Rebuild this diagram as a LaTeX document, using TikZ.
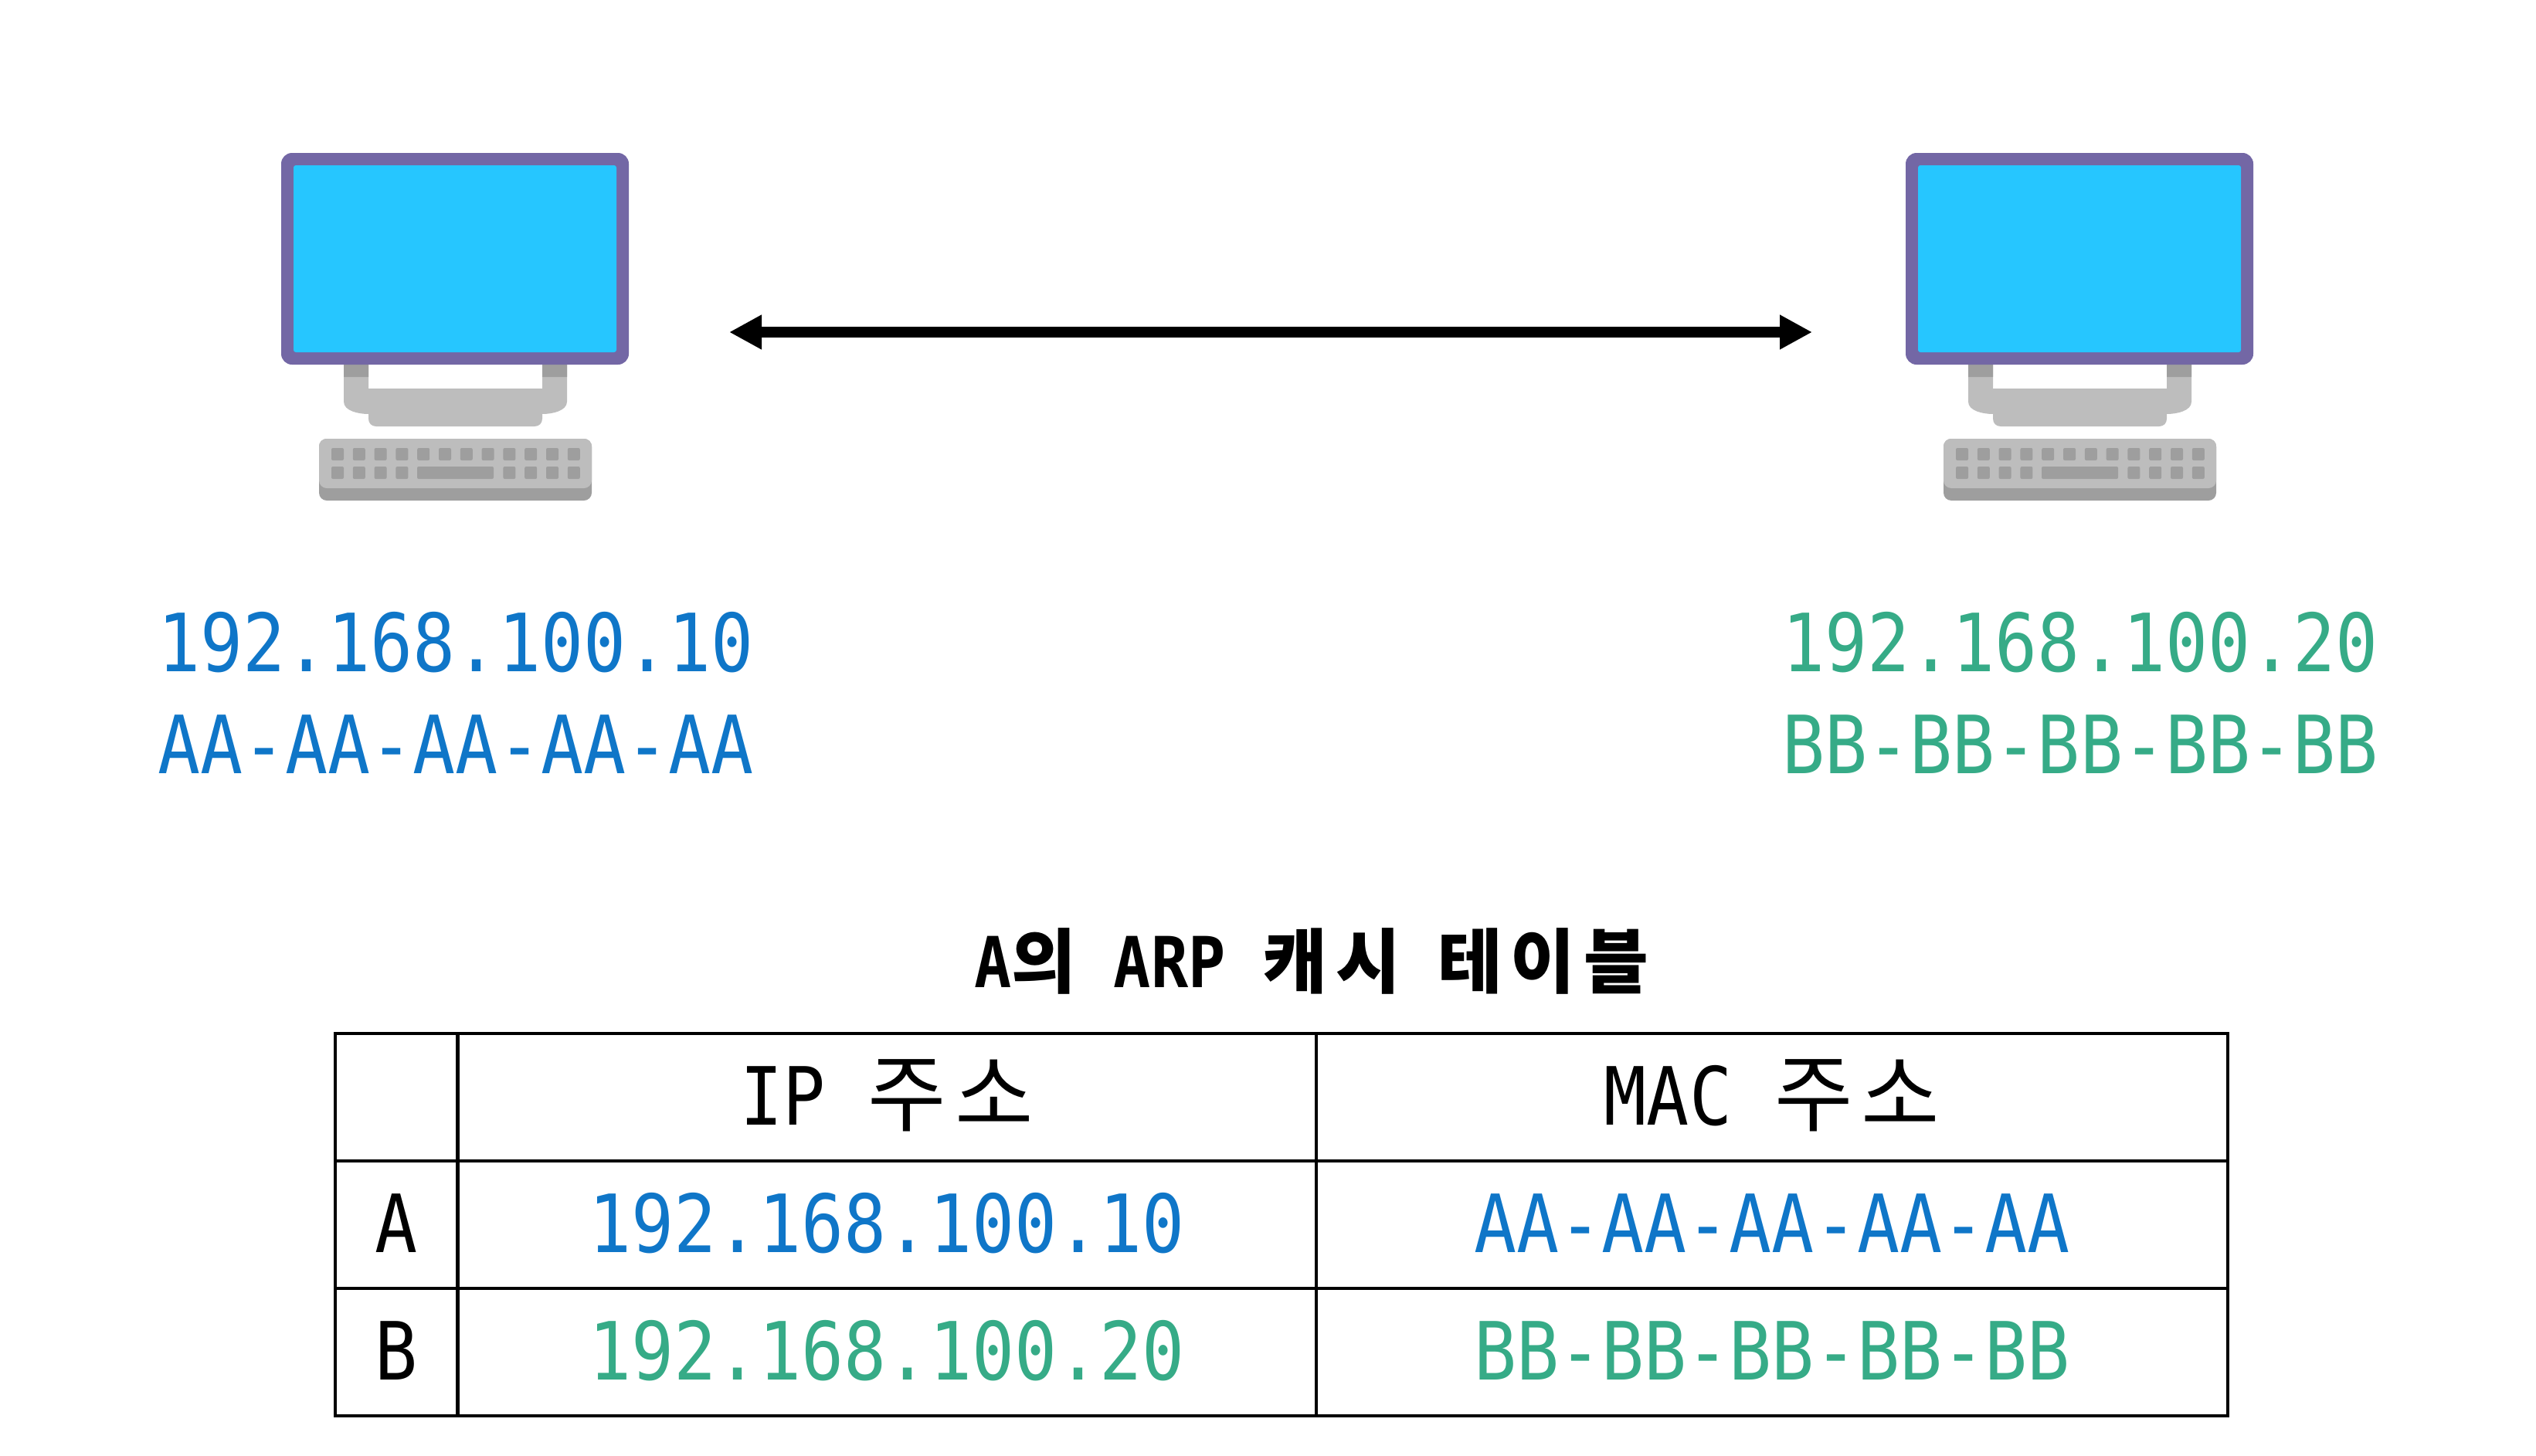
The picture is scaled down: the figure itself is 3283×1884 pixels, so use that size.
\documentclass[tikz,border=0pt]{standalone}
\usepackage{fontspec}
\usetikzlibrary{arrows.meta}
\newfontfamily\monofont[FakeStretch=0.88]{DejaVu Sans Mono}
\newfontfamily\kor[LetterSpace=10,Scale=1.06]{Noto Sans CJK KR}
\newfontfamily\kortitle[LetterSpace=12]{Noto Sans CJK KR}
\definecolor{frameC}{HTML}{7367A5}
\definecolor{screenC}{HTML}{26C6FF}
\definecolor{lightC}{HTML}{BDBDBD}
\definecolor{darkC}{HTML}{9E9E9E}
\definecolor{blueC}{HTML}{0F76C8}
\definecolor{greenC}{HTML}{36AB87}
\tikzset{
  addr/.style={anchor=base,inner sep=0pt,font=\monofont\fontsize{104}{104}\selectfont},
  cell/.style={draw,line width=4pt,inner sep=0pt,text height=72pt,text depth=0pt,
    minimum height=165pt,font=\monofont\fontsize{104}{104}\selectfont},
  pc/.pic={
    \fill[lightC] (81,274) -- (81,322) .. controls (81,334) and (100,338) .. (113,338)
      -- (113,344) .. controls (113,350) and (117,354) .. (123,354) -- (328,354)
      .. controls (334,354) and (338,350) .. (338,344) -- (338,338)
      .. controls (351,338) and (370,334) .. (370,322) -- (370,274) -- (338,274) -- (338,305) -- (113,305) -- (113,274) -- cycle;
    \fill[darkC] (81,274) rectangle (113,290) (338,274) rectangle (370,290);
    \fill[frameC,rounded corners=14pt] (0,0) rectangle (450,274);
    \fill[screenC,rounded corners=3pt] (16,16) rectangle (434,258);
    \fill[darkC,rounded corners=10pt] (49,370) rectangle (402,450);
    \fill[lightC,rounded corners=10pt] (49,370) rectangle (402,434);
    \foreach \k in {0,...,11}
      \fill[darkC,rounded corners=2pt] (65+27.8*\k,382) rectangle ++(16,16);
    \foreach \k in {0,1,2,3,8,9,10,11}
      \fill[darkC,rounded corners=2pt] (65+27.8*\k,406) rectangle ++(16,16);
    \fill[darkC,rounded corners=2pt] (176,406) rectangle (275,422);
  }
}
\begin{document}
\begin{tikzpicture}[x=1pt,y=-1pt]
  \useasboundingbox (0,0) rectangle (3283,1884);
  \pic at (364,198) {pc};
  \pic at (2467,198) {pc};
  \coordinate (leftEnd) at (944,430);
  \coordinate (rightEnd) at (2346,430);
  \draw[line width=14pt,{Triangle[width=42pt,length=42pt]}-{Triangle[width=42pt,length=42pt]}] (leftEnd) -- (rightEnd);

  \node[addr,blueC] (ipA) at (590,869) {192.168.100.10};
  \node[addr,blueC] (macA) at (590,1001) {AA-AA-AA-AA-AA};
  \node[addr,greenC] (ipB) at (2693,869) {192.168.100.20};
  \node[addr,greenC] (macB) at (2693,1001) {BB-BB-BB-BB-BB};

  \node[anchor=base,inner sep=0pt,font=\monofont\bfseries\fontsize{91}{91}\selectfont] (title) at (1698,1278)
    {A{\kortitle 의} ARP {\kortitle 캐시} {\kortitle 테이블}};

  \begin{scope}[every node/.style={cell}]
    \node[minimum width=159pt] (corner) at (513,1420.5) {};
    \node[minimum width=1112pt] (ipHead) at (1148,1420.5) {IP {\kor 주소}};
    \node[minimum width=1180pt] (macHead) at (2294,1420.5) {MAC {\kor 주소}};
    \node[minimum width=159pt] (rowA) at (513,1585.5) {A};
    \node[minimum width=1112pt,text=blueC] (ipRowA) at (1148,1585.5) {192.168.100.10};
    \node[minimum width=1180pt,text=blueC] (macRowA) at (2294,1585.5) {AA-AA-AA-AA-AA};
    \node[minimum width=159pt] (rowB) at (513,1750.5) {B};
    \node[minimum width=1112pt,text=greenC] (ipRowB) at (1148,1750.5) {192.168.100.20};
    \node[minimum width=1180pt,text=greenC] (macRowB) at (2294,1750.5) {BB-BB-BB-BB-BB};
  \end{scope}
\end{tikzpicture}
\end{document}
